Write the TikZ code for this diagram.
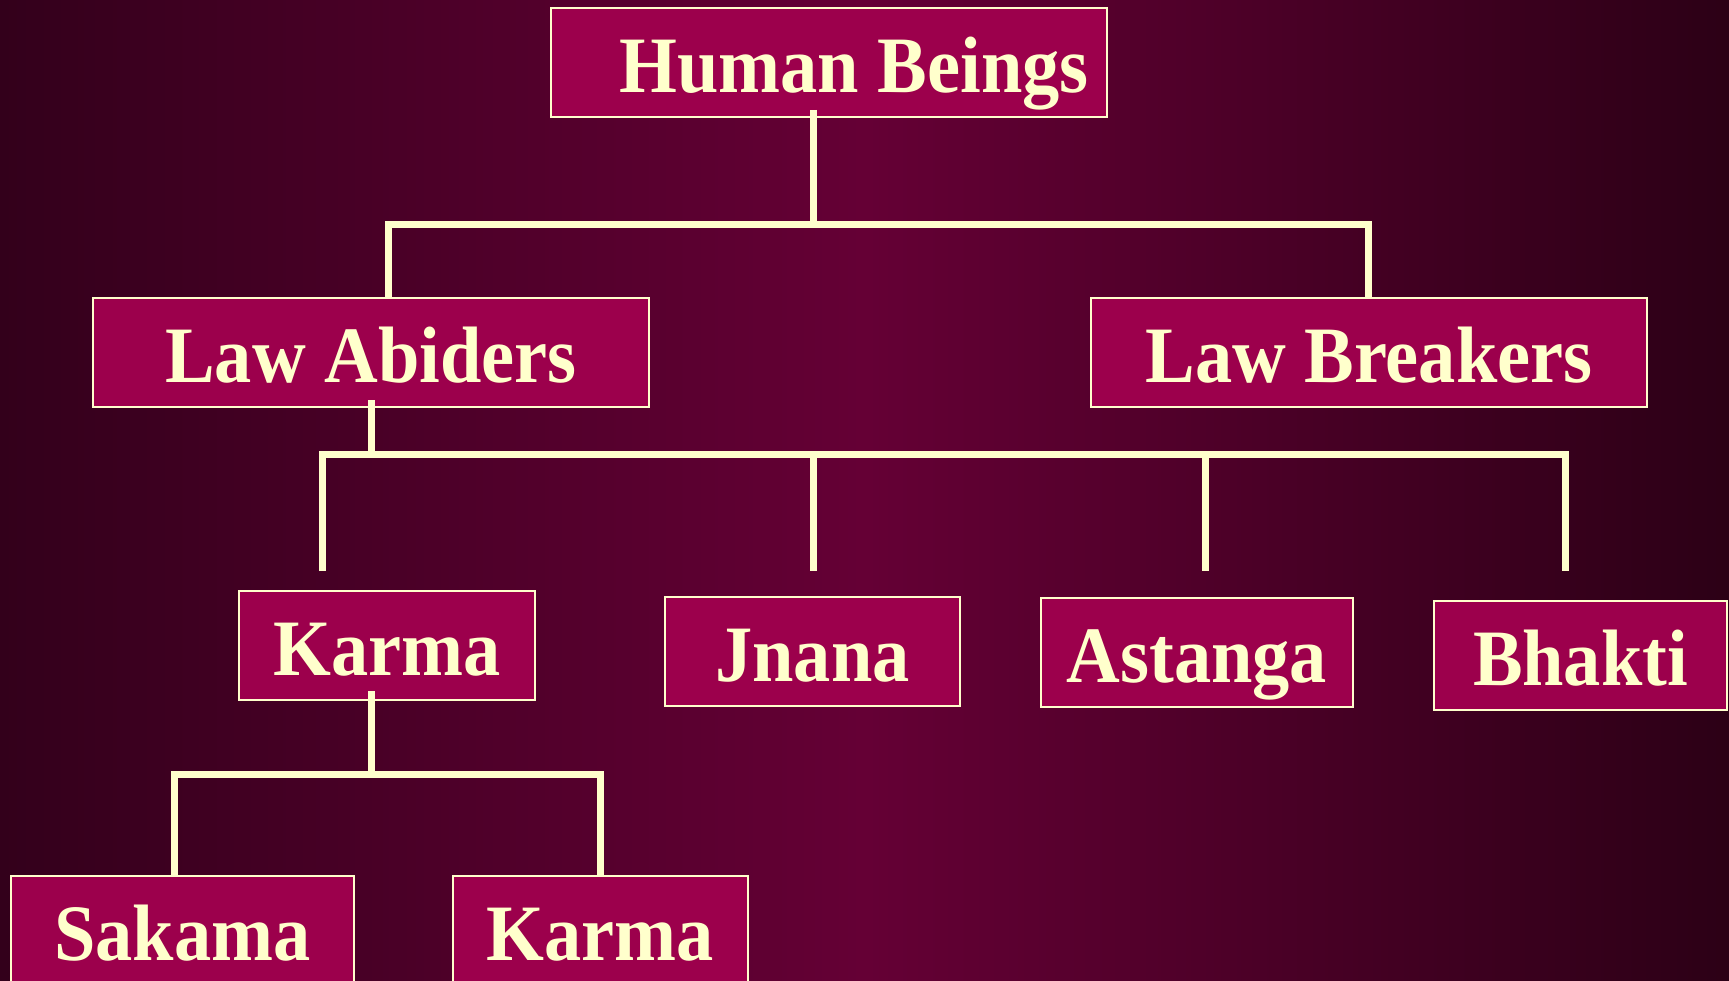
\documentclass[tikz,border=0pt]{standalone}
\usepackage{fontspec}
\setmainfont{Liberation Serif}[FakeStretch=0.93]

\definecolor{bgleft}{HTML}{33001B}
\definecolor{bgright}{HTML}{2C0016}
\definecolor{bgmid}{HTML}{650035}
\definecolor{boxfill}{HTML}{9C004C}
\definecolor{cream}{HTML}{FFFFCC}

\tikzset{
  tbox/.style={draw=cream, line width=2pt, fill=boxfill, text=cream,
    font=\fontsize{80}{80}\selectfont\bfseries, inner sep=0pt,
    minimum height=109pt, text height=60pt, text depth=0pt},
  link/.style={draw=cream, line width=7pt}
}

\begin{document}
\begin{tikzpicture}[x=1pt,y=-1pt]
  % Background
  \useasboundingbox (0,0) rectangle (1729,981);
  \clip (0,0) rectangle (1729,981);
  \shade[left color=bgleft, right color=bgright, middle color=bgmid] (0,0) rectangle (1729,981);

  % Draw the boxes
  \node[tbox, minimum width=556pt] (hb) at (829,62.5) {\hspace*{50pt}Human Beings};
  \node[tbox, minimum width=556pt] (la) at (371,352.5) {Law Abiders};
  \node[tbox, minimum width=556pt] (lb) at (1369,352.5) {Law Breakers};
  \node[tbox, minimum width=296pt] (ka) at (387,645.5) {Karma};
  \node[tbox, minimum width=295pt] (jn) at (812.5,651.5) {Jnana};
  \node[tbox, minimum width=312pt] (as) at (1197,652.5) {Astanga};
  \node[tbox, minimum width=293pt] (bh) at (1580.5,655.5) {Bhakti};
  \node[tbox, minimum width=343pt] (sk) at (182.5,930.5) {Sakama};
  \node[tbox, minimum width=295pt] (kb) at (600.5,930.5) {Karma};

  % Junctions of the bars
  \coordinate (t1) at (813,225);
  \coordinate (l1a) at (388,225);
  \coordinate (l1b) at (1368,225);
  \coordinate (bar2) at (0,454);
  \coordinate (d1) at (322,571);
  \coordinate (d2) at (813,571);
  \coordinate (d3) at (1205,571);
  \coordinate (d4) at (1565,571);
  \coordinate (k3) at (371,774);
  \coordinate (s1) at (174,774);
  \coordinate (s2) at (600,774);

  % Draw the first bar
  \draw[link, shorten <=-8pt] (hb.south -| t1) -- (t1);
  \draw[link] (la.north -| l1a) -- (l1a) -- (l1b) -- (lb.north -| l1b);

  % Draw the second bar
  \draw[link, shorten <=-8pt] (la.south) -- (la.south |- bar2);
  \draw[link] (d1) -- (d1 |- bar2) -- (d4 |- bar2) -- (d4);
  \draw[link] (d2 |- bar2) -- (d2);
  \draw[link] (d3 |- bar2) -- (d3);

  % Draw the third bar
  \draw[link, shorten <=-10pt] (ka.south -| k3) -- (k3);
  \draw[link] (sk.north -| s1) -- (s1) -- (s2) -- (kb.north -| s2);
\end{tikzpicture}
\end{document}
